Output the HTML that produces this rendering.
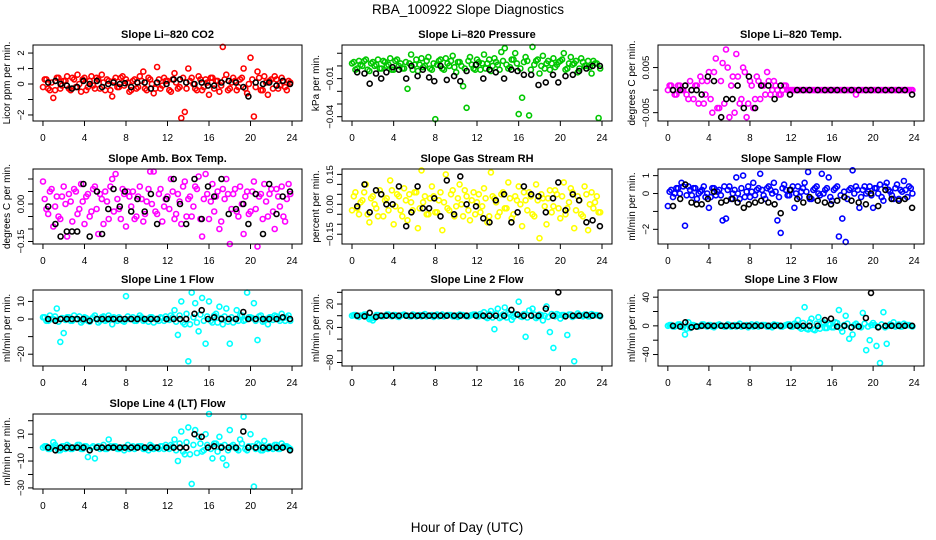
<!DOCTYPE html>
<html><head><meta charset="utf-8"><title>RBA_100922 Slope Diagnostics</title>
<style>
html,body{margin:0;padding:0;background:#fff;}
svg{display:block;font-family:"Liberation Sans",Arial,sans-serif;}
</style></head>
<body>
<svg id="chart" width="936" height="540" viewBox="0 0 936 540" xmlns="http://www.w3.org/2000/svg">
<text x="468" y="14" font-size="13.5" text-anchor="middle">RBA_100922  Slope Diagnostics</text>
<text x="467" y="532" font-size="13.5" text-anchor="middle">Hour of Day (UTC)</text>
</svg>
<script>
const hoursColored = [0,0.33,0.67,1,1.33,1.67,2,2.33,2.67,3,3.33,3.67,
4,4.33,4.67,5,5.33,5.67,6,6.33,6.67,7,7.33,7.67,
8,8.33,8.67,9,9.33,9.67,10,10.33,10.67,11,11.33,11.67,
12,12.33,12.67,13,13.33,13.67,14,14.33,14.67,15,15.33,15.67,
16,16.33,16.67,17,17.33,17.67,18,18.33,18.67,19,19.33,19.67,
20,20.33,20.67,21,21.33,21.67,22,22.33,22.67,23,23.33,23.67];
const hoursCore = [0.17,0.5,0.83,1.17,1.5,1.83,2.17,2.5,2.83,3.17,3.5,3.83,
4.17,4.5,4.83,5.17,5.5,5.83,6.17,6.5,6.83,7.17,7.5,7.83,
8.17,8.5,8.83,9.17,9.5,9.83,10.17,10.5,10.83,11.17,11.5,11.83,
12.17,12.5,12.83,13.17,13.5,13.83,14.17,14.5,14.83,15.17,15.5,15.83,
16.17,16.5,16.83,17.17,17.5,17.83,18.17,18.5,18.83,19.17,19.5,19.83,
20.17,20.5,20.83,21.17,21.5,21.83,22.17,22.5,22.83,23.17,23.5,23.83];
const hoursBlack = [0.5,1.2,1.7,2.3,2.8,3.3,3.9,4.5,5.2,5.7,6.3,6.8,7.4,7.9,8.5,9.1,9.8,10.4,11.0,11.9,12.6,13.2,13.8,14.6,15.3,15.9,16.5,17.2,17.9,18.6,19.3,19.8,20.5,21.2,21.8,22.5,23.1,23.8];
const xTicks = [0,4,8,12,16,20,24];

const co2Colored = [-0.2,0.3,-0.4,-0.9,0.4,-0.3,0.2,0.5,-0.4,0.3,0.6,-0.5,0.4,-0.2,0.5,-0.3,0.3,0.6,-0.4,0.2,-0.8,0.4,-0.2,0.5,0.3,-0.5,0.2,-0.3,0.5,0.8,-0.4,0.3,-0.6,1.1,-0.3,0.4,0.2,-0.5,0.7,-0.3,-2.2,-1.8,1.0,0.4,-0.3,0.5,-0.4,0.3,-0.7,0.4,0.2,-0.5,2.4,0.6,-0.3,0.4,-0.4,0.3,1.0,-0.6,1.7,-2.1,0.8,-0.4,0.5,-0.7,0.3,0.5,-0.3,0.4,-0.2,0.2];
const co2Core = [0.3,-0.3,0.1,-0.4,0.4,-0.1,0.2,-0.3,0.4,-0.2,0.0,0.3,-0.4,0.2,-0.1,0.4,-0.3,0.1,0.3,-0.4,0.2,-0.2,0.4,-0.1,0.1,-0.4,0.3,-0.2,0.2,-0.3,0.4,0.0,-0.3,0.3,-0.1,0.2,-0.4,0.3,0.1,-0.2,0.4,-0.3,0.2,0.0,-0.4,0.3,-0.2,0.1,0.4,-0.3,0.2,-0.1,0.3,-0.4,0.1,0.2,-0.2,0.4,-0.3,0.0,0.3,-0.2,0.4,-0.4,0.1,0.2,-0.3,0.3,-0.1,0.2,-0.4,0.1];
const co2Black = [0.1,0.2,0.0,-0.1,-0.3,-0.2,0.2,0.0,0.2,-0.2,0.0,0.1,0.0,0.05,-0.2,0.1,0.1,-0.3,0.1,0.0,0.3,0.3,0.1,0.0,0.1,-0.1,-0.1,0.1,0.2,0.1,-0.2,-0.8,0.1,0.0,0.1,-0.1,0.2,0.0];

const presColored = [0.002,-0.003,0.004,0.000,0.005,-0.004,0.003,0.001,-0.002,0.004,0.000,0.006,-0.003,0.005,0.002,-0.002,-0.018,0.009,0.001,-0.004,0.006,0.000,0.007,-0.003,-0.042,0.004,-0.002,0.006,0.000,0.008,-0.005,0.003,-0.016,-0.033,0.007,-0.002,0.005,-0.003,0.009,0.002,-0.004,0.006,0.001,0.011,0.014,-0.002,0.005,0.010,-0.038,-0.025,0.007,-0.039,0.015,0.004,-0.006,0.008,0.002,-0.003,0.006,0.001,0.004,0.010,-0.002,0.007,0.002,-0.005,0.006,0.000,0.004,-0.006,0.002,-0.041];
const presCore = [0.003,-0.002,0.001,0.004,-0.003,0.002,0.000,0.005,-0.002,0.003,0.001,-0.003,0.004,0.000,-0.002,0.003,0.002,-0.003,0.005,0.001,-0.001,0.004,-0.002,0.002,0.001,0.005,-0.003,0.002,0.004,-0.001,0.003,0.000,-0.002,0.004,0.001,-0.003,0.003,0.002,-0.002,0.005,0.000,0.003,-0.003,0.004,0.001,-0.001,0.005,0.002,-0.002,0.003,0.004,-0.003,0.001,0.005,0.000,-0.002,0.004,0.002,-0.001,0.003,0.005,-0.003,0.002,0.001,0.004,-0.002,0.003,0.000,-0.001,0.004,0.002,-0.002];
const presBlack = [-0.005,-0.006,-0.014,-0.006,-0.010,-0.005,-0.001,-0.003,-0.010,0.000,-0.008,-0.003,-0.009,-0.012,0.000,-0.011,-0.008,-0.012,-0.004,0.001,-0.010,-0.003,-0.005,-0.010,-0.003,-0.004,-0.007,-0.007,-0.015,-0.013,-0.007,-0.013,-0.008,-0.007,-0.004,-0.002,0.000,0.000];

const tempColored = [0.000,0.001,-0.001,0.001,0.000,0.001,-0.002,0.000,0.001,-0.003,0.002,-0.001,0.004,-0.005,0.007,-0.004,0.006,0.009,-0.006,0.003,0.008,-0.003,0.005,-0.006,0.002,-0.004,0.003,-0.002,0.001,0.004,-0.001,0.002,0.000,-0.001,0.001,0.000,0,0,0,0,0,0,0,0,0,0,0,0,0,0,0,0,0,0,0,-0.001,0,0,0,0,0,0,0,0,0,0,0,0,0,0,0,0];
const tempCore = [0.001,0.000,-0.001,0.001,0.000,-0.001,0.002,-0.002,0.001,0.003,-0.003,0.002,-0.002,0.004,-0.004,0.002,-0.003,0.005,0.001,-0.005,0.003,-0.002,0.004,-0.003,0.001,-0.002,0.002,0.001,-0.001,0.002,0.000,0.001,-0.001,0.000,0.001,0.000,0,0,0,0,0,0,0,0,0,0,0,0,0,0,0,0,0,0,0,0,0,0,0,0,0,0,0,0,0,0,0,0,0,0,0,0];
const tempBlack = [0,0,0.001,0,0,-0.001,0.003,0.002,-0.006,-0.002,-0.002,0.001,-0.004,0.003,-0.004,0.001,0.001,-0.002,0.001,-0.001,0,0,0,0,0,0,0,0,0,0,0,0,0,0,0,0,0,-0.001];

const boxColored = [0.09,-0.02,0.05,-0.09,0.03,-0.06,0.07,-0.13,0.01,0.06,-0.04,0.08,-0.08,0.04,-0.03,0.07,-0.12,0.02,0.05,-0.06,0.10,0.12,-0.02,0.06,-0.09,0.03,0.05,-0.05,0.07,-0.07,0.01,0.13,0.13,-0.04,0.06,-0.01,0.03,0.10,-0.06,0.04,-0.08,0.09,0.02,-0.05,0.07,0.11,-0.13,0.12,-0.06,0.08,0.03,-0.10,0.06,0.10,-0.16,0.04,-0.03,0.07,-0.12,0.05,-0.03,0.09,-0.17,0.04,0.08,-0.05,0.06,-0.10,0.03,0.07,-0.07,0.08];
const boxCore = [0.02,-0.04,0.06,-0.01,-0.05,0.03,0.00,0.04,-0.07,0.05,-0.02,0.01,0.03,-0.05,0.06,-0.02,0.04,-0.08,0.01,0.07,-0.03,0.02,-0.06,0.04,0.05,-0.01,-0.06,0.03,0.02,-0.04,0.06,0.00,-0.03,0.04,-0.07,0.02,-0.02,0.05,-0.04,0.01,0.07,-0.05,0.03,-0.01,0.06,-0.06,0.02,0.04,0.01,-0.03,0.05,-0.07,0.02,0.04,-0.02,0.06,-0.05,0.00,0.03,-0.04,0.05,-0.02,0.03,-0.06,0.01,0.04,-0.03,0.06,-0.01,-0.05,0.02,0.04];
const boxBlack = [-0.01,-0.08,-0.13,-0.11,-0.11,-0.11,0.08,-0.13,0.05,-0.12,-0.02,0.06,-0.01,0.05,-0.03,0.02,-0.03,0.04,-0.08,0.02,0.10,0.00,-0.08,0.10,-0.06,0.07,0.03,0.10,-0.04,-0.02,0.00,-0.08,0.04,-0.12,0.08,-0.04,0.03,0.05];

const rhColored = [-0.03,0.06,-0.05,0.02,0.10,-0.09,0.04,-0.02,0.07,-0.06,0.03,0.12,-0.10,0.05,-0.03,0.08,-0.08,0.01,0.06,-0.12,0.17,0.04,-0.05,0.09,-0.04,0.02,-0.13,0.15,-0.03,0.07,-0.01,0.10,-0.06,0.04,-0.08,0.06,0.01,-0.04,0.08,-0.09,0.16,0.03,-0.06,0.05,-0.02,0.11,-0.07,0.04,0.09,-0.11,0.02,0.06,-0.05,0.10,-0.17,0.03,-0.10,0.07,-0.01,0.05,-0.07,0.11,-0.02,0.08,-0.12,0.04,-0.05,0.09,-0.13,0.06,0.01,-0.04];
const rhCore = [0.04,-0.02,0.01,0.06,-0.05,0.03,0.00,-0.06,0.05,0.02,-0.03,0.07,-0.01,0.04,-0.06,0.02,0.05,-0.03,0.06,-0.02,0.01,-0.05,0.03,0.04,-0.04,0.06,0.01,-0.02,0.05,-0.06,0.03,0.00,0.07,-0.03,0.02,-0.05,0.05,-0.01,0.03,-0.06,0.04,0.01,-0.04,0.06,-0.02,0.03,-0.05,0.02,0.00,0.06,-0.03,0.04,-0.06,0.02,0.05,-0.01,0.03,-0.04,0.07,-0.02,0.04,-0.05,0.01,0.06,-0.03,0.02,-0.06,0.05,0.00,-0.02,0.04,-0.04];
const rhBlack = [-0.01,0.10,-0.04,0.07,0.05,0.00,0.00,0.09,-0.11,-0.04,0.09,-0.02,-0.02,0.03,-0.06,0.12,-0.05,0.14,0.00,-0.01,-0.07,-0.09,0.02,0.05,-0.09,-0.04,0.09,0.05,0.04,-0.04,0.03,0.11,-0.03,0.05,0.02,-0.09,-0.08,-0.11];

const sampleColored = [-0.7,0.2,0.0,0.3,0.6,-1.8,0.4,-0.1,0.3,0.0,0.2,-0.2,-0.8,0.3,-0.1,0.2,-1.5,-1.4,0.4,0.0,0.9,-0.3,1.0,0.1,-0.2,0.6,0.2,1.1,-0.1,0.3,0.2,0.6,-1.5,-2.2,0.5,-0.1,0.2,-0.8,0.4,0.1,0.6,1.2,-0.3,0.3,0.0,1.1,0.2,0.9,-0.4,0.3,-2.4,-1.4,-2.7,0.2,1.3,0.4,-0.8,0.2,0.0,0.4,-0.8,0.3,0.5,-0.4,0.6,0.1,-0.3,0.5,0.2,0.7,-0.2,0.3];
const sampleCore = [0.1,-0.2,0.3,0.0,0.4,-0.1,0.2,0.3,-0.3,0.1,0.4,0.0,-0.2,0.3,0.1,-0.1,0.4,0.2,-0.3,0.2,0.0,0.3,-0.2,0.4,0.1,-0.1,0.3,0.2,-0.3,0.4,0.0,0.1,-0.2,0.3,0.2,-0.1,0.4,0.0,-0.2,0.3,0.1,-0.3,0.2,0.4,-0.1,0.0,0.3,-0.2,0.2,0.4,-0.1,0.1,-0.3,0.3,0.0,0.2,-0.2,0.4,0.1,-0.1,0.3,0.0,-0.2,0.4,0.2,-0.1,0.3,-0.3,0.1,0.2,0.4,0.0];
const sampleBlack = [-0.7,-0.3,0.5,-0.5,-0.6,-0.6,-0.3,0.1,-0.5,-0.4,-0.3,-0.5,-0.8,-0.6,-0.5,-0.4,-0.5,-0.6,-1.1,0.2,-0.3,-0.5,-0.2,-0.4,-0.5,-0.6,-0.4,-0.2,-0.4,-0.5,-0.6,0.0,-0.7,0.2,-0.3,-0.4,-0.3,-0.8];

const line1Colored = [1,-1,2,0,6,-13,-8,1,-1,2,0,-2,1,-1,0,2,-2,1,-1,2,-3,0,1,-1,13,0,1,-1,2,-1,0,1,-2,0,1,-1,0,2,5,-9,10,-3,-24,15,9,-7,12,-14,10,-2,3,7,-3,6,-14,-2,5,2,-1,15,1,9,-12,2,-1,-3,1,2,0,3,-1,2];
const line1Core = [1,-1,0,1.5,-1.5,0.5,-0.5,1,-1,0,1.5,-1,0.5,-1.5,1,0,-1,1.5,-0.5,0.5,1,-1,0,-1.5,1.5,0,-1,0.5,1,-0.5,-1.5,1,0,-1,0.5,1.5,-0.5,1,-1.5,2,-2,3,-3,1,-2,2.5,-1,1.5,-1,2,-2,0.5,1.5,-1.5,1,0,-1,2,-0.5,1,0.5,-1,1.5,-1.5,0,1,-0.5,1.5,-1,0.5,1,-1];
const line1Black = [0,-1,0,0,0,0,0,-1,0,0,0,0,0,0,0,0,0,0,0,0,0,0,0,3,5,0,1,0,0,0,4,0,0,0,0,0,1,0];

const line2Colored = [0,1,-2,0,2,-6,-8,1,0,-1,2,0,1,-1,0,2,0,-1,1,0,-1,3,0,1,0,-1,2,0,1,-1,0,2,1,-1,0,2,-1,3,6,-4,8,-23,12,-2,14,5,-7,3,24,-2,-36,9,12,-4,2,-8,16,-28,-55,3,-5,1,-33,2,-78,4,0,2,-1,3,1,0];
const line2Core = [1,-1,0,2,-2,-5,-4,1,-1,0,2,-1,1,-2,1,0,-1,2,-1,1,1,-1,0,-2,2,0,-1,1,1,-1,-2,1,0,-1,1,2,-1,1,-2,3,-3,4,-4,2,-3,3,-2,2,-1,3,-3,1,2,-2,1,0,-2,3,-1,1,1,-1,2,-2,0,1,-1,2,-1,1,1,-1];
const line2Black = [0,-1,5,-2,0,0,0,0,0,0,0,0,0,0,0,0,0,0,0,0,0,0,0,0,10,2,0,0,0,12,0,40,-1,0,0,1,0,0];

const line3Colored = [0,1,-1,2,0,-12,5,1,0,-1,2,0,1,-1,0,2,0,-1,1,0,-1,3,0,1,0,-1,2,0,1,-1,0,2,1,-1,0,2,-1,3,8,-4,26,-5,10,-6,12,4,-3,2,-2,5,22,-8,14,-18,-12,3,-1,18,-34,-20,4,-28,-52,19,-25,2,5,0,-1,3,1,0];
const line3Core = [1,-1,0,2,-2,-4,-3,1,-1,0,2,-1,1,-2,1,0,-1,2,-1,1,1,-1,0,-2,2,0,-1,1,1,-1,-2,1,0,-1,1,2,-1,2,-2,4,-4,5,-5,3,-4,5,-3,2,-2,4,-3,1,3,-2,1,0,-2,3,-1,1,1,-1,2,-2,0,1,-1,2,-1,1,1,-1];
const line3Black = [0,-1,5,-2,-1,0,0,0,0,0,0,0,0,0,0,0,0,0,0,0,0,0,0,0,8,10,-1,0,-2,-1,11,46,-2,0,0,0,0,0];

const line4Colored = [0,1,-1,4,0,-2,1,2,-1,0,2,-1,1,-7,0,-8,1,0,-1,6,0,1,-1,0,0,-1,1,0,1,-1,0,2,-1,0,1,-1,0,2,6,-10,12,-5,15,-27,13,8,-3,10,25,-8,3,8,-8,-13,13,2,-1,6,23,-2,10,-29,3,-2,5,-1,0,2,-1,3,1,0];
const line4Core = [1,-1,0,2,-2,1,-1,1,-1,0,2,-1,1,-2,1,0,-1,2,-1,1,1,-1,0,-2,2,0,-1,1,1,-1,-2,1,0,-1,1,2,-1,1,-2,3,-3,4,-5,2,-4,3,-2,2,-1,3,-3,1,2,-2,1,0,-2,3,-1,1,1,-1,2,-2,0,1,-1,2,-1,1,1,-1];
const line4Black = [0,-2,0,0,0,0,0,-2,0,0,0,0,0,0,0,0,0,0,0,0,0,0,0,10,8,0,1,0,0,0,12,0,0,0,0,0,0,-2];

const panelTitles = ["Slope Li\u2013820 CO2","Slope Li\u2013820 Pressure","Slope Li\u2013820 Temp.","Slope Amb. Box Temp.","Slope Gas Stream RH","Slope Sample Flow","Slope Line 1 Flow","Slope Line 2 Flow","Slope Line 3 Flow","Slope Line 4 (LT) Flow"];
const yTitles = ["Licor ppm per min.","kPa per min.","degrees C per min.","degrees C per min.","percent per min.","ml/min per min.","ml/min per min.","ml/min per min.","ml/min per min.","ml/min per min."];
const yTickValues = [[-2,-1,0,1,2],[0.01,0,-0.01,-0.02,-0.03,-0.04],[0.005,0,-0.005],[0.10,0.05,0,-0.05,-0.10,-0.15],[0.15,0.10,0.05,0,-0.05,-0.10,-0.15],[1,0,-1,-2],[10,0,-10,-20],[40,20,0,-20,-40,-60,-80],[40,20,0,-20,-40],[20,10,0,-10,-20,-30]];
const yTickLabels = [["\u22122","","0","1","2"],["","","\u22120.01","","","\u22120.04"],["0.005","","\u22120.005"],["","","0.00","","","\u22120.15"],["0.15","","","0.00","","","\u22120.15"],["1","0","","\u22122"],["10","0","","\u221220"],["","20","","\u221220","","","\u221280"],["40","","0","","\u221240"],["","10","","\u221210","","\u221230"]];
const yDomains = [[2.52,-2.39],[0.0165,-0.0434],[0.0100,-0.00685],[0.14,-0.16],[0.177,-0.199],[1.37,-2.82],[16.5,-26.7],[44,-86],[50,-56],[25,-30.8]];
const coloredSeries = [co2Colored,presColored,tempColored,boxColored,rhColored,sampleColored,line1Colored,line2Colored,line3Colored,line4Colored];
const coreSeries = [co2Core,presCore,tempCore,boxCore,rhCore,sampleCore,line1Core,line2Core,line3Core,line4Core];
const blackSeries = [co2Black,presBlack,tempBlack,boxBlack,rhBlack,sampleBlack,line1Black,line2Black,line3Black,line4Black];
const seriesColors = ["#ff0000","#00c800","#ff00ff","#ff00ff","#ffff00","#0000ff","#00ffff","#00ffff","#00ffff","#00ffff"];
const panelKeys = ["co2","pressure","li820-temp","amb-box-temp","gas-stream-rh","sample-flow","line1-flow","line2-flow","line3-flow","line4-flow"];

const colBoxes = [[33,302],[342,612],[658,924]];
const rowBoxes = [[45,121],[169,244],[290,366],[414,489]];
const NS = "http://www.w3.org/2000/svg";
const svg = document.getElementById("chart");
function mk(tag, attrs, parent){
  const e = document.createElementNS(NS, tag);
  for (const k in attrs) e.setAttribute(k, attrs[k]);
  (parent||svg).appendChild(e);
  return e;
}

for (let p = 0; p < 10; p++) {
  const col = p % 3, row = Math.floor(p / 3);
  const [L, R] = colBoxes[col];
  const [T, B] = rowBoxes[row];
  const key = panelKeys[p];
  const g = mk("g", {});
  
  
  const xScale = h => L + (h + 0.96) / 25.92 * (R - L);
  const [yTop, yBot] = yDomains[p];
  const yScale = v => T + (yTop - v) / (yTop - yBot) * (B - T);

  const title = mk("text", {x:(L+R)/2, y:T-7, "font-size":11, "font-weight":"bold", "text-anchor":"middle"}, g);
  title.textContent = panelTitles[p];
  
  

  const yt = mk("text", {x:0, y:0, "font-size":10, "text-anchor":"middle", transform:"translate(" + (L-23) + "," + ((T+B)/2) + ") rotate(-90)"}, g);
  yt.textContent = yTitles[p];
  
  

  const cs = coloredSeries[p];
  for (let i = 0; i < cs.length; i++) {
    const c = mk("circle", {cx:xScale(hoursColored[i]).toFixed(1), cy:yScale(cs[i]).toFixed(1), r:2.5, fill:"none", stroke:seriesColors[p], "stroke-width":1.6}, g);
    
    
  }
  const cc = coreSeries[p];
  for (let i = 0; i < cc.length; i++) {
    const c = mk("circle", {cx:xScale(hoursCore[i]).toFixed(1), cy:yScale(cc[i]).toFixed(1), r:2.5, fill:"none", stroke:seriesColors[p], "stroke-width":1.6}, g);
    
    
  }
  const bs = blackSeries[p];
  for (let i = 0; i < bs.length; i++) {
    const c = mk("circle", {cx:xScale(hoursBlack[i]).toFixed(1), cy:yScale(bs[i]).toFixed(1), r:2.5, fill:"none", stroke:"#000", "stroke-width":1.6}, g);
    
    
  }

  const box = mk("rect", {x:L, y:T, width:R-L, height:B-T, fill:"none", stroke:"#000", "stroke-width":1}, g);
  
  

  const xa = mk("g", {}, g);
  
  
  mk("line", {x1:xScale(xTicks[0]), x2:xScale(xTicks[xTicks.length-1]), y1:B, y2:B, stroke:"#000"}, xa);
  for (const t of xTicks) {
    const x = xScale(t);
    mk("line", {x1:x, x2:x, y1:B, y2:B+5, stroke:"#000"}, xa);
    const tl = mk("text", {x:x, y:B+20, "font-size":10, "text-anchor":"middle"}, xa);
    tl.textContent = String(t);
    
    
  }
  const ya = mk("g", {}, g);
  
  
  const tv = yTickValues[p];
  mk("line", {x1:L, x2:L, y1:yScale(Math.max(...tv)), y2:yScale(Math.min(...tv)), stroke:"#000"}, ya);
  for (let i = 0; i < tv.length; i++) {
    const y = yScale(tv[i]);
    mk("line", {x1:L-5, x2:L, y1:y, y2:y, stroke:"#000"}, ya);
    if (yTickLabels[p][i]) {
      const tl = mk("text", {x:0, y:0, "font-size":9.5, "text-anchor":"middle", transform:"translate(" + (L-9) + "," + y.toFixed(1) + ") rotate(-90)"}, ya);
      tl.textContent = yTickLabels[p][i];
      
      
    }
  }
}
</script>
</body></html>
